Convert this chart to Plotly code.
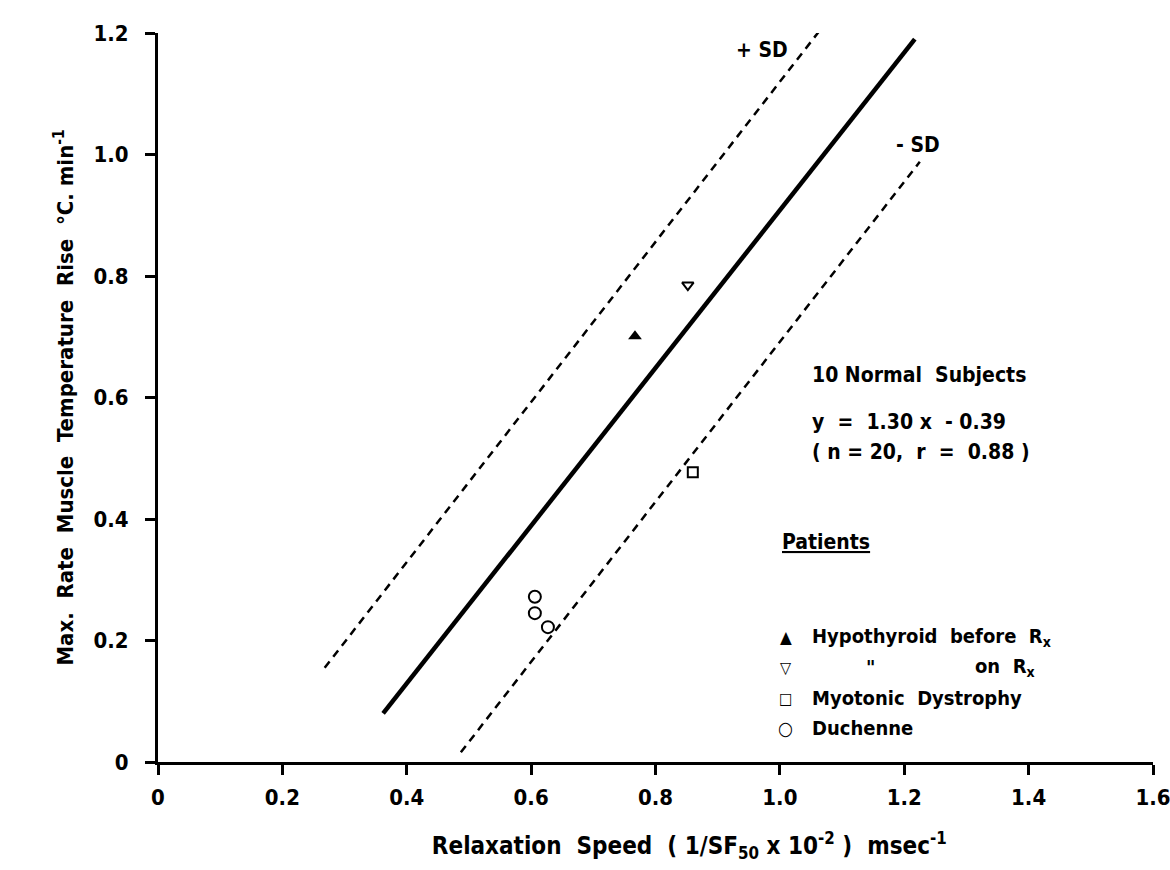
import plotly.graph_objects as go

# ---- data ----
hypo_before_x = [0.767]
hypo_before_y = [0.701]
hypo_on_x = [0.852]
hypo_on_y = [0.785]
myotonic_x = [0.860]
myotonic_y = [0.477]
duchenne_x = [0.606, 0.606, 0.627]
duchenne_y = [0.272, 0.245, 0.222]

reg_x = [0.362, 1.217]
reg_y = [0.080, 1.190]
plus_sd_x = [0.268, 1.067]
plus_sd_y = [0.155, 1.208]
minus_sd_x = [0.487, 1.225]
minus_sd_y = [0.016, 0.988]

x_ticks = [0, 0.2, 0.4, 0.6, 0.8, 1.0, 1.2, 1.4, 1.6]
x_tick_labels = ["0", "0.2", "0.4", "0.6", "0.8", "1.0", "1.2", "1.4", "1.6"]
y_ticks = [0, 0.2, 0.4, 0.6, 0.8, 1.0, 1.2]
y_tick_labels = ["0", "0.2", "0.4", "0.6", "0.8", "1.0", "1.2"]

FONT = "DejaVu Sans Condensed"

fig = go.Figure()

fig.add_trace(go.Scatter(x=reg_x, y=reg_y, mode="lines",
                         line=dict(color="black", width=4.5), showlegend=False))
fig.add_trace(go.Scatter(x=plus_sd_x, y=plus_sd_y, mode="lines",
                         line=dict(color="black", width=2.5, dash="8px,6px"), showlegend=False))
fig.add_trace(go.Scatter(x=minus_sd_x, y=minus_sd_y, mode="lines",
                         line=dict(color="black", width=2.5, dash="8px,6px"), showlegend=False))

fig.add_trace(go.Scatter(x=hypo_before_x, y=hypo_before_y, mode="markers",
                         marker=dict(symbol="triangle-up", size=12, color="black"), showlegend=False))
fig.add_trace(go.Scatter(x=hypo_on_x, y=hypo_on_y, mode="markers",
                         marker=dict(symbol="triangle-down-open", size=10, color="black",
                                     line=dict(width=2, color="black")), showlegend=False))
fig.add_trace(go.Scatter(x=myotonic_x, y=myotonic_y, mode="markers",
                         marker=dict(symbol="square-open", size=10, color="black",
                                     line=dict(width=2, color="black")), showlegend=False))
fig.add_trace(go.Scatter(x=duchenne_x, y=duchenne_y, mode="markers",
                         marker=dict(symbol="circle-open", size=12, color="black",
                                     line=dict(width=2, color="black")), showlegend=False))

def ann(text, x, y, xanchor="left", size=20):
    fig.add_annotation(text=text, x=x, y=y, xref="x", yref="y", showarrow=False,
                       xanchor=xanchor, yanchor="middle",
                       font=dict(family=FONT, size=size, color="black", weight="bold"))

ann("+ SD", 0.971, 1.172, xanchor="center", size=21)
ann("- SD", 1.222, 1.016, xanchor="center", size=21)
ann("10 Normal  Subjects", 1.048, 0.637, size=21)
ann("y  =  1.30 x  - 0.39", 1.048, 0.560, size=21)
ann("( n = 20,  r  =  0.88 )", 1.048, 0.510, size=21)
ann("<u>Patients</u>", 1.0, 0.362, size=21)

# legend block
ann("▲", 1.0096, 0.206, xanchor="center", size=17)
ann("▽", 1.0096, 0.156, xanchor="center", size=16)
ann("□", 1.0096, 0.105, xanchor="center", size=16)
ann("○", 1.0096, 0.056, xanchor="center", size=19)
ann("Hypothyroid  before  R<sub>x</sub>", 1.048, 0.206)
ann("\"", 1.145, 0.156, xanchor="center")
ann("on  R<sub>x</sub>", 1.310, 0.156)
ann("Myotonic  Dystrophy", 1.048, 0.105)
ann("Duchenne", 1.048, 0.056)

axis_common = dict(showline=True, linecolor="black", linewidth=3,
                   ticks="outside", ticklen=10, tickwidth=3, tickcolor="black",
                   showgrid=False, zeroline=False, ticklabeloverflow="allow",
                   tickfont=dict(family=FONT, size=22, color="black", weight="bold"))

pad = "&#160;" * 9
fig.update_xaxes(range=[0, 1.6], tickvals=x_ticks, ticktext=x_tick_labels,
                 ticklabelstandoff=4,
                 title=dict(text=pad + "Relaxation  Speed  ( 1/SF<sub>50</sub> x 10<sup>-2</sup> )  msec<sup>-1</sup>",
                            font=dict(family=FONT, size=24, color="black", weight="bold"),
                            standoff=28),
                 **axis_common)
fig.update_yaxes(range=[0, 1.2], tickvals=y_ticks, ticktext=y_tick_labels,
                 ticklabelstandoff=12,
                 title=dict(text="Max.  Rate  Muscle  Temperature  Rise  °C. min<sup>-1</sup>",
                            font=dict(family=FONT, size=22, color="black", weight="bold"),
                            standoff=14),
                 **axis_common)

fig.update_layout(width=1170, height=870,
                  margin=dict(l=158, r=17, t=33, b=108, autoexpand=False),
                  paper_bgcolor="white", plot_bgcolor="white",
                  font=dict(family=FONT, size=20, color="black"))

fig.write_html("out.html",
               config={"displayModeBar": False},
               post_script="document.body.style.margin='0';document.body.style.overflow='hidden';")
